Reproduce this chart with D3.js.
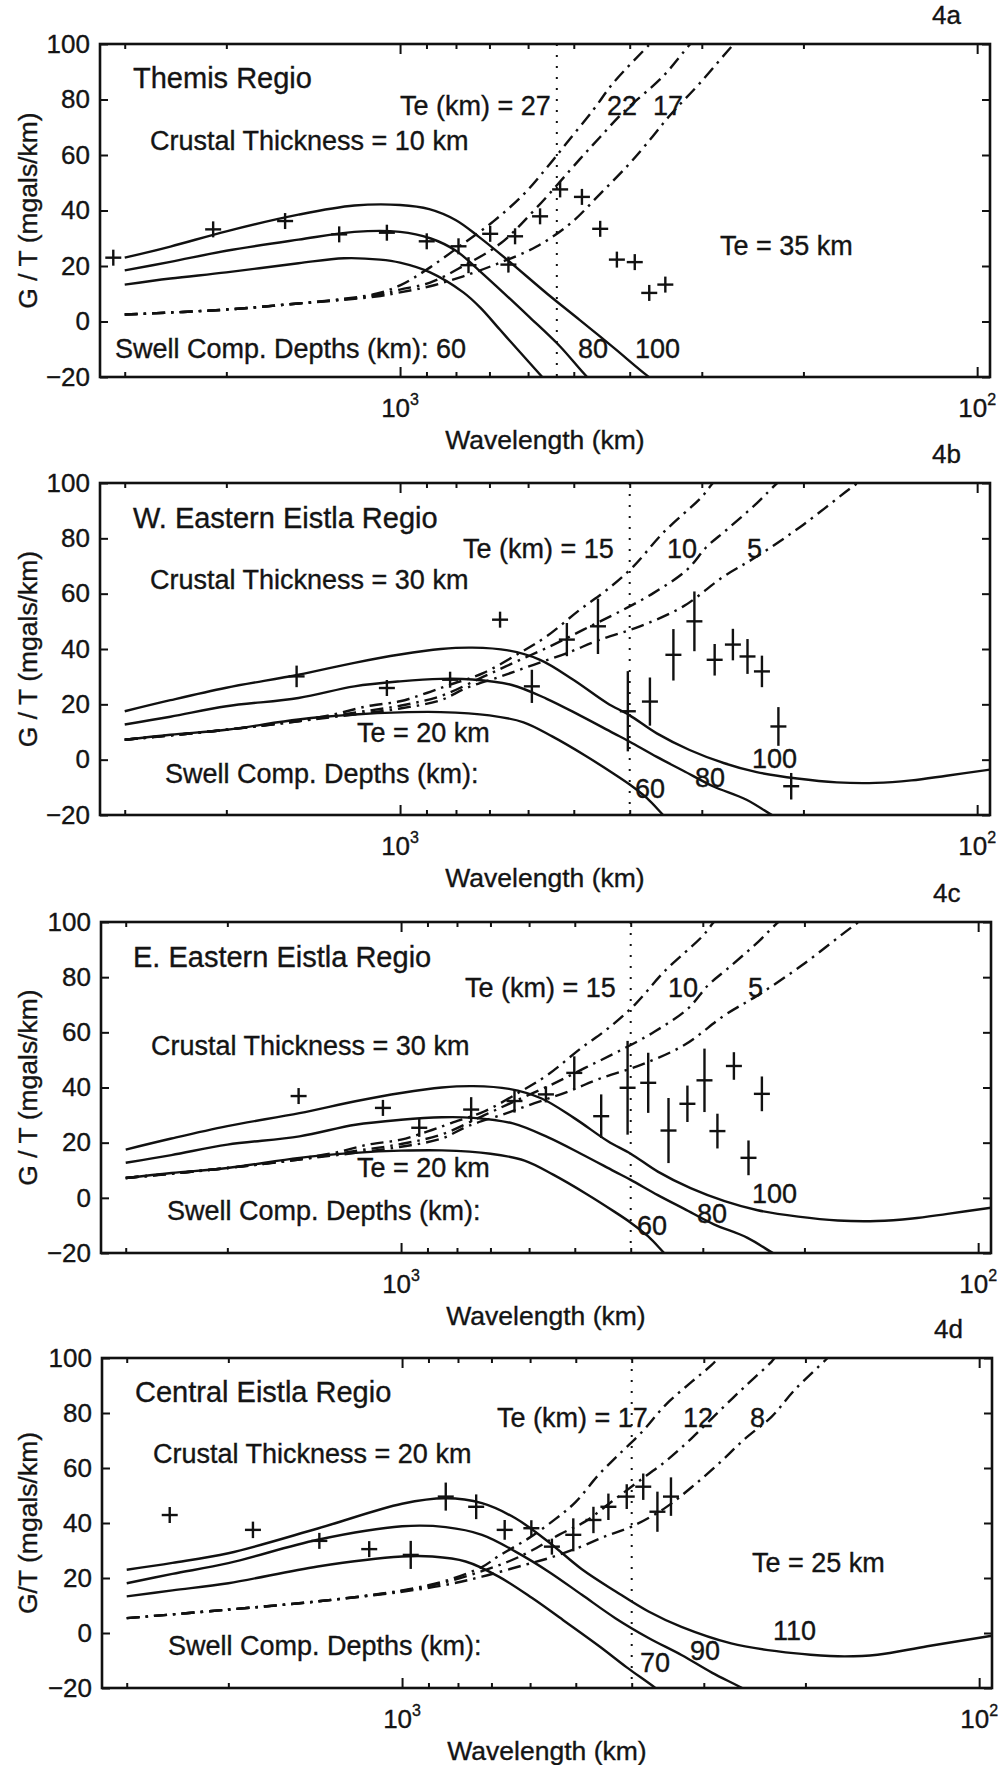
<!DOCTYPE html>
<html>
<head>
<meta charset="utf-8">
<script src="https://cdn.jsdelivr.net/npm/d3@7"></script>
<style>
  body { margin: 0; background: #fff; }
  svg text { font-family: "Liberation Sans", Arial, Helvetica, sans-serif; fill: #141414; stroke: #141414; stroke-width: 0.35px; }
</style>
</head>
<body>
<div id="fig"></div>
<script>
// all curves: [wavelength (km), G/T (mgals/km)]

// 4a Themis Regio
var aDepth100 = [[3000,23],[2500,27],[2000,32.5],[1500,38.5],[1200,41.8],[1000,42],[890,40.5],[800,36.5],[730,30.5],[650,22],[556,10],[488,0.5],[426,-9.5],[373,-19.5],[350,-23.5]]
var aDepth80 = [[3000,18.4],[2500,21.5],[2000,25.5],[1500,29.5],[1200,32.3],[1000,32.3],[887,30],[800,25.5],[726,18],[671,11.5],[596,1.5],[528,-9],[474,-20],[450,-24]]
var aDepth60 = [[3000,13.3],[2500,15.5],[2000,17.7],[1500,21],[1250,22.8],[1083,22.3],[1000,21.2],[887,17.7],[777,10.5],[726,5],[671,-3],[620,-11],[567,-20],[540,-25]]
var aTe27 = [[3000,2.5],[2000,4.3],[1500,6.5],[1250,8.2],[1100,10],[1000,13],[899,18.7],[790,27],[689,36.1],[611,45.8],[557,55.4],[514,64.4],[462,76.4],[427,86],[369,100],[350,105]]
var aTe22 = [[3000,2.5],[2000,4.3],[1500,6.5],[1250,8],[1100,9.5],[1000,11.5],[887,14],[777,20],[671,28],[580,41],[488,58.5],[450,66.5],[410,75.5],[350,88.4],[314,100],[300,104]]
var aTe17 = [[3000,2.5],[2000,4.3],[1500,6.5],[1250,7.8],[1100,9],[1000,10.5],[887,12.7],[777,16.3],[671,21.2],[580,27],[507,35.3],[450,46],[404,56],[374,64],[340,74.5],[302,86],[264,100],[250,105]]
// [wavelength, value, error half-length]
var aPoints = [[3140,23,0],[2108,33.2,0],[1582,36.2,0],[1275,31.4,0],[1054,32,0],[899,28.9,0],[792,27.1,0],[761,20.3,0],[698,31.6,0],[649,20.5,0],[632,30.7,0],[572,37.9,0],[528,47.6,0],[484,44.9,0],[450,33.4,0],[421,22.3,0],[392,21.4,0],[370,10.3,0],[347,13.3,0]]

// 4b / 4c share the same model (30 km crust, Te 20 km)
var bDepth100 = [[3000,17.5],[2500,21.5],[2000,26],[1500,30.7],[1200,35],[1000,38],[850,40],[750,40.5],[650,39.5],[572,36.1],[501,28.9],[438,20.5],[400,16],[359,9.5],[315,3.5],[275,-1.2],[241,-4.5],[205,-6.8],[175,-8.2],[150,-8.4],[130,-7.5],[113,-5.8],[95,-3.6]]
var bDepth80 = [[3000,12.7],[2500,15.5],[2000,19.3],[1500,22.3],[1200,26.5],[1000,28.3],[850,29.2],[750,29],[640,27],[557,22],[488,16],[427,9.6],[400,6.5],[359,1],[323,-4],[287,-9.6],[251,-14.5],[225,-20.5],[210,-24]]
var bDepth60 = [[3000,7.2],[2500,9],[2000,10.8],[1500,14.5],[1200,16.3],[1000,17.1],[850,17.2],[700,16],[611,13.5],[545,8.4],[478,1.5],[427,-5],[400,-9],[373,-14],[350,-20],[335,-24]]
var bTe15 = [[3000,7.2],[2000,10.8],[1534,13.9],[1306,16.3],[1141,19.3],[1000,21.1],[899,24.1],[819,27.1],[718,31.3],[620,38.6],[557,44.6],[488,54.2],[438,61.4],[394,69.9],[350,82],[300,95],[287,100],[275,104]]
var bTe10 = [[3000,7.2],[2000,10.8],[1500,13.9],[1200,17],[1000,19.5],[850,23],[717,30],[628,35.5],[549,41],[481,47],[421,53],[364,60.2],[318,68.7],[294,77],[272,83],[240,93],[222,100],[210,104]]
var bTe5 = [[3000,7.2],[2000,10.8],[1500,13.9],[1200,16.3],[1000,18.5],[850,21.5],[766,26],[671,30],[587,34.3],[514,38.5],[450,43.4],[384,48.2],[323,55.4],[275,66.2],[241,73.4],[202,84.3],[161,100],[150,104]]
var bPoints = [[1511,30.1,3.9],[1054,25.9,0],[819,28.9,0],[671,50.6,0],[591,26.5,6],[514,43.4,6],[454,48.2,10],[403,17.5,14.5],[369,21,8.7],[336,37.9,9.3],[309,50,10.8],[285,36.1,5.7],[265,41.6,5.7],[250,37.3,6.3],[236,31.9,5.7],[221,12,7],[210,-9.6,4.8]]
var cPoints = [[1505,36.9,0],[1075,32.6,0],[930,25.4,3.3],[756,32,4.5],[636,35.1,4.2],[561,37.5,0],[501,45.3,6],[450,29.6,7.9],[405,39.9,17],[373,41.7,10.9],[344,24.4,11.8],[319,34.1,6.6],[298,42.6,11.5],[283,24.2,6.3],[265,47.8,5],[250,14.5,6.3],[237,37.7,6.3]]

// 4d Central Eistla Regio
var dDepth110 = [[3000,23],[2500,25.5],[2000,29],[1400,38],[1000,47],[840,49],[727,47.2],[636,41.7],[558,33.2],[488,23.2],[427,15.2],[374,7.8],[328,2.2],[269,-3.8],[223,-6.7],[196,-7.9],[171,-8.5],[150,-7.9],[123,-4.8],[95,-1]]
var dDepth90 = [[3000,18.1],[2500,21.5],[2000,25.4],[1400,33.9],[1000,38.8],[840,38.5],[727,35.7],[636,29.6],[558,22.4],[488,13.9],[427,5.4],[374,-1.8],[328,-8],[290,-14.5],[255,-20.5],[240,-24]]
var dDepth70 = [[3000,13.3],[2500,15.5],[2000,18.1],[1400,24.2],[1000,27.8],[886,27.8],[776,26],[680,20.5],[595,12.7],[522,4.2],[454,-5],[408,-12.5],[364,-20],[345,-24]]
var dTe17 = [[3000,5.4],[2000,8.5],[1400,11.5],[1000,15.5],[840,19],[727,24],[680,28],[603,34.5],[542,41.5],[501,47.5],[457,57.4],[422,64.7],[384,73.1],[350,82.8],[315,91.3],[291,97.4],[283,100],[270,104]]
var dTe12 = [[3000,5.4],[2000,8.5],[1400,11.5],[1000,15.3],[840,18.5],[727,22.5],[654,26],[596,30],[535,35.7],[482,40.5],[433,47.8],[390,55],[350,62.3],[315,70.8],[283,80.4],[255,89.5],[229,98.6],[226,100],[215,104]]
var dTe8 = [[3000,5.4],[2000,8.5],[1400,11.5],[1000,15],[840,17.5],[727,20.5],[612,24.8],[557,27.2],[495,31],[445,35.1],[400,38.7],[350,45.5],[315,53],[283,61.5],[255,70.5],[229,78.6],[209,88.3],[183,100],[175,104]]
var dPoints = [[2527,42.9,0],[1813,37.5,3],[1391,33.5,2.7],[1140,30.5,0],[966,28.4,5.1],[840,49.6,5.1],[744,45.9,4.5],[664,37.5,3.6],[597,38.1,0],[550,31.4,0],[505,35.7,6],[466,41.1,4.8],[439,45.9,4.8],[408,49.6,4.5],[382,53.2,4.8],[361,44.1,7.3],[342,49.6,7]]

var yTicks = [-20, 0, 20, 40, 60, 80, 100]
var minorWl = [3000, 2000, 900, 800, 700, 600, 500, 400, 300, 200]
var majorWl = [1000, 100]
var splitWl = [535, 400, 400, 400]

var W = 1004, H = 1765

var svg = d3.select("#fig").append("svg")
  .attr("width", W).attr("height", H)

var panels = [
  { tag: "4a", box: [100, 44, 990, 377], ylab: "G / T (mgals/km)",
    depth: [aDepth100, aDepth80, aDepth60], te: [aTe27, aTe22, aTe17], pts: aPoints,
    notes: [["Themis Regio", 33, 44, 1], ["Crustal Thickness = 10 km", 50, 106], ["Te (km) = 27", 300, 71],
            ["22", 507, 71], ["17", 553, 71], ["Te = 35 km", 620, 211],
            ["Swell Comp. Depths (km): 60", 15, 314], ["80", 478, 314], ["100", 535, 314]] },
  { tag: "4b", box: [100, 483, 990, 815], ylab: "G / T (mgals/km)",
    depth: [bDepth100, bDepth80, bDepth60], te: [bTe15, bTe10, bTe5], pts: bPoints,
    notes: [["W. Eastern Eistla Regio", 33, 45, 1], ["Crustal Thickness = 30 km", 50, 106], ["Te (km) = 15", 363, 75],
            ["10", 567, 75], ["5", 647, 75], ["Te = 20 km", 257, 259],
            ["Swell Comp. Depths (km):", 65, 300], ["60", 535, 315], ["80", 595, 304], ["100", 652, 285]] },
  { tag: "4c", box: [101, 922, 991, 1253], ylab: "G / T (mgals/km)",
    depth: [bDepth100, bDepth80, bDepth60], te: [bTe15, bTe10, bTe5], pts: cPoints,
    notes: [["E. Eastern Eistla Regio", 32, 45, 1], ["Crustal Thickness = 30 km", 50, 133], ["Te (km) = 15", 364, 75],
            ["10", 567, 75], ["5", 647, 75], ["Te = 20 km", 256, 255],
            ["Swell Comp. Depths (km):", 66, 298], ["60", 536, 313], ["80", 596, 301], ["100", 651, 281]] },
  { tag: "4d", box: [102, 1358, 992, 1688], ylab: "G/T (mgals/km)",
    depth: [dDepth110, dDepth90, dDepth70], te: [dTe17, dTe12, dTe8], pts: dPoints,
    notes: [["Central Eistla Regio", 33, 44, 1], ["Crustal Thickness = 20 km", 51, 105], ["Te (km) = 17", 395, 69],
            ["12", 581, 69], ["8", 648, 69], ["Te = 25 km", 650, 214],
            ["Swell Comp. Depths (km):", 66, 297], ["70", 538, 314], ["90", 588, 302], ["110", 671, 282]] }
]

panels.forEach(drawPanel)

function drawPanel(p, i) {
  var L = p.box[0], T = p.box[1], R = p.box[2], B = p.box[3]
  var x = d3.scaleLog().domain([3311, 95]).range([L, R])
  var y = d3.scaleLinear().domain([-20, 100]).range([B, T])
  var g = svg.append("g")

  g.append("clipPath").attr("id", "clip" + i)
    .append("rect").attr("x", L).attr("y", T).attr("width", R - L).attr("height", B - T)

  var line = d3.line()
    .x(function (d) { return x(d[0]) })
    .y(function (d) { return y(d[1]) })
    .curve(d3.curveCatmullRom.alpha(0.5))

  var plot = g.append("g").attr("clip-path", "url(#clip" + i + ")")

  plot.selectAll(".depth").data(p.depth).enter().append("path")
    .attr("class", "depth")
    .attr("d", line)
    .attr("fill", "none").attr("stroke", "#111").attr("stroke-width", 2.4)

  plot.selectAll(".te").data(p.te).enter().append("path")
    .attr("class", "te")
    .attr("d", line)
    .attr("fill", "none").attr("stroke", "#111").attr("stroke-width", 2.4)
    .attr("stroke-dasharray", "13,6,2.5,6")

  // dotted divider
  plot.append("line")
    .attr("x1", x(splitWl[i])).attr("x2", x(splitWl[i]))
    .attr("y1", y(100)).attr("y2", y(-20))
    .attr("stroke", "#111").attr("stroke-width", 2).attr("stroke-dasharray", "2,9")

  // data crosses
  var pts = g.selectAll(".pt").data(p.pts).enter().append("g").attr("class", "pt")
    .attr("stroke", "#111").attr("stroke-width", 2.4)
  pts.append("line")
    .attr("x1", function (d) { return x(d[0]) - 8 })
    .attr("x2", function (d) { return x(d[0]) + 8 })
    .attr("y1", function (d) { return y(d[1]) })
    .attr("y2", function (d) { return y(d[1]) })
  pts.append("line")
    .attr("x1", function (d) { return x(d[0]) })
    .attr("x2", function (d) { return x(d[0]) })
    .attr("y1", function (d) { return Math.min(y(d[1] + d[2]), y(d[1]) - 8) })
    .attr("y2", function (d) { return Math.max(y(d[1] - d[2]), y(d[1]) + 8) })

  // axes, ticks pointing inward
  var left = g.append("g").attr("transform", "translate(" + L + ",0)")
    .call(d3.axisLeft(y).tickValues(yTicks).tickSize(-8).tickPadding(10))
  left.select(".domain").remove()
  left.selectAll("line").attr("stroke", "#111").attr("stroke-width", 2)
  left.selectAll("text").attr("font-size", 26).attr("font-family", null).style("fill", "#141414")

  var right = g.append("g").attr("transform", "translate(" + R + ",0)")
    .call(d3.axisRight(y).tickValues(yTicks).tickSize(-8).tickFormat(""))
  right.select(".domain").remove()
  right.selectAll("line").attr("stroke", "#111").attr("stroke-width", 2)

  ;[[B, d3.axisBottom], [T, d3.axisTop]].forEach(function (s) {
    var minor = g.append("g").attr("transform", "translate(0," + s[0] + ")")
      .call(s[1](x).tickValues(minorWl).tickSize(-5).tickFormat(""))
    minor.select(".domain").remove()
    minor.selectAll("line").attr("stroke", "#111").attr("stroke-width", 2)
    var major = g.append("g").attr("transform", "translate(0," + s[0] + ")")
      .call(s[1](x).tickValues(majorWl).tickSize(-10).tickFormat(""))
    major.select(".domain").remove()
    major.selectAll("line").attr("stroke", "#111").attr("stroke-width", 2)
  })

  g.append("rect")
    .attr("x", L).attr("y", T).attr("width", R - L).attr("height", B - T)
    .attr("fill", "none").attr("stroke", "#111").attr("stroke-width", 2.6)

  // 10^3, 10^2 labels
  var pow = g.selectAll(".pow").data(majorWl).enter().append("text")
    .attr("class", "pow")
    .attr("x", function (d) { return x(d) })
    .attr("y", B + 40)
    .attr("text-anchor", "middle")
    .attr("font-size", 26)
  pow.append("tspan").text("10")
  pow.append("tspan").attr("dy", -12).attr("font-size", 16)
    .text(function (d) { return Math.round(Math.log10(d)) })

  g.append("text")
    .attr("x", (L + R) / 2).attr("y", B + 72)
    .attr("text-anchor", "middle").attr("font-size", 26.5)
    .text("Wavelength (km)")

  g.append("text")
    .attr("transform", "translate(37," + (T + B) / 2 + ") rotate(-90)")
    .attr("text-anchor", "middle").attr("font-size", 26.5)
    .text(p.ylab)

  g.append("text")
    .attr("x", L + 832).attr("y", T - 20)
    .attr("font-size", 26)
    .text(p.tag)

  g.selectAll(".note").data(p.notes).enter().append("text")
    .attr("class", "note")
    .attr("x", function (d) { return L + d[1] })
    .attr("y", function (d) { return T + d[2] })
    .attr("font-size", function (d) { return d[3] ? 29 : 27 })
    .text(function (d) { return d[0] })
}
</script>
</body>
</html>
